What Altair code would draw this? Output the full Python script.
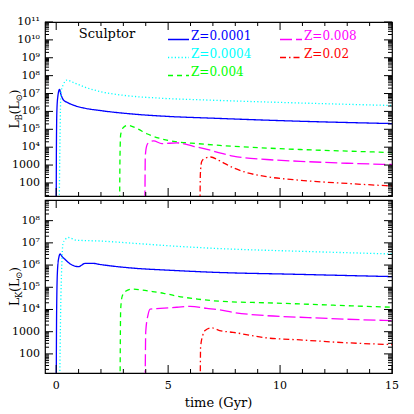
import altair as alt
import pandas as pd

FONT = "DejaVu Serif"
W, H1, H2 = 347, 174, 173

SERIES = ["Z=0.0001", "Z=0.0004", "Z=0.004", "Z=0.008", "Z=0.02"]
COLORS = ["#0000ff", "#00ffff", "#00ff00", "#ff00ff", "#ff0000"]
DASHES = [[1, 0], [1.2, 2.2], [5, 4], [12, 4], [6, 3, 1.5, 3]]

# ---- top panel: time (Gyr) and log10 L_B (Lsun) ----
tB = [
    [0.0, 0.01, 0.03, 0.07, 0.15, 0.2, 0.33, 0.5, 0.77, 1.2, 1.96, 3.45, 5.0, 7.0, 10.9, 15.0],
    [0.13, 0.17, 0.21, 0.3, 0.48, 0.8, 1.3, 2.0, 3.0, 4.5, 6.9, 10.9, 15.0],
    [2.83, 2.85, 2.88, 3.0, 3.2, 3.6, 4.05, 4.6, 5.4, 6.3, 7.3, 9.4, 10.9, 13.0, 15.0],
    [3.96, 3.98, 4.05, 4.15, 4.35, 4.72, 5.39, 6.13, 6.88, 7.3, 7.9, 9.4, 10.9, 13.0, 15.0],
    [6.42, 6.44, 6.5, 6.65, 6.9, 7.25, 7.9, 8.6, 9.4, 10.9, 13.0, 15.0],
]
logLB = [
    [0.0, 4.0, 6.0, 6.8, 7.23, 7.0, 6.63, 6.5, 6.35, 6.2, 6.05, 5.85, 5.72, 5.62, 5.45, 5.32],
    [0.0, 4.5, 7.0, 7.45, 7.75, 7.6, 7.35, 7.1, 6.9, 6.75, 6.63, 6.47, 6.33],
    [0.0, 3.5, 4.7, 5.1, 5.22, 5.05, 4.75, 4.5, 4.3, 4.2, 4.1, 3.95, 3.87, 3.78, 3.7],
    [0.0, 3.5, 4.1, 4.27, 4.35, 4.2, 4.24, 4.05, 3.83, 3.68, 3.5, 3.31, 3.21, 3.1, 3.03],
    [0.0, 2.5, 3.2, 3.38, 3.45, 3.27, 2.85, 2.55, 2.35, 2.15, 1.97, 1.83],
]

# ---- bottom panel: time (Gyr) and log10 L_K (Lsun) ----
tK = [
    [0.0, 0.02, 0.06, 0.12, 0.18, 0.25, 0.4, 0.63, 1.0, 1.3, 1.6, 2.0, 3.45, 5.0, 6.9, 10.9, 15.0],
    [0.15, 0.2, 0.25, 0.3, 0.4, 0.55, 0.9, 2.0, 3.45, 5.0, 6.9, 10.9, 15.0],
    [2.85, 2.88, 2.95, 3.1, 3.38, 4.2, 4.8, 5.4, 6.3, 7.3, 9.4, 10.9, 13.0, 15.0],
    [3.97, 4.0, 4.1, 4.2, 4.64, 5.39, 5.98, 6.73, 7.3, 7.9, 9.4, 10.9, 13.0, 15.0],
    [6.43, 6.45, 6.55, 6.65, 6.95, 7.3, 7.9, 9.4, 10.9, 13.0, 15.0],
]
logLK = [
    [0.0, 4.0, 5.8, 6.35, 6.5, 6.4, 6.25, 6.05, 5.93, 6.08, 6.08, 6.02, 5.86, 5.77, 5.68, 5.58, 5.48],
    [0.0, 4.0, 6.0, 6.95, 7.15, 7.24, 7.12, 7.08, 6.98, 6.87, 6.76, 6.62, 6.5],
    [0.0, 4.0, 4.6, 4.82, 4.92, 4.82, 4.73, 4.6, 4.47, 4.37, 4.3, 4.25, 4.17, 4.1],
    [0.0, 3.0, 3.75, 4.02, 4.05, 4.1, 4.14, 4.05, 3.98, 3.87, 3.72, 3.65, 3.56, 3.5],
    [0.0, 2.3, 2.85, 3.05, 3.17, 3.05, 2.97, 2.72, 2.63, 2.5, 2.42],
]

X_DOMAIN = [-0.5, 15]
X_MAJOR = [0, 5, 10, 15]
X_LABELS = ["0", "5", "10", "15"]
X_MINOR = [1, 2, 3, 4, 6, 7, 8, 9, 11, 12, 13, 14]
YB_DOMAIN = [18.6, 1e11]
YK_DOMAIN = [13.8, 8.5e8]
YB_MAJOR = [1e2, 1e3, 1e4, 1e5, 1e6, 1e7, 1e8, 1e9, 1e10, 1e11]
YB_LABELS = ["100", "1000", "10⁴", "10⁵", "10⁶", "10⁷", "10⁸", "10⁹", "10¹⁰", "10¹¹"]
YK_MAJOR = [1e2, 1e3, 1e4, 1e5, 1e6, 1e7, 1e8]
YK_LABELS = ["100", "1000", "10⁴", "10⁵", "10⁶", "10⁷", "10⁸"]


def minor_ticks(dom):
    out = []
    for n in range(0, 12):
        for m in range(2, 10):
            v = m * 10 ** n
            if dom[0] <= v <= dom[1]:
                out.append(v)
    return out


def frame(ts, logs):
    rows = []
    for s, tt, ll in zip(SERIES, ts, logs):
        for a, b in zip(tt, ll):
            rows.append({"series": s, "t": a, "L": 10 ** b})
    return pd.DataFrame(rows)


one = alt.Data(values=[{}])


def txt(text, x, y, size, color="black", angle=0, align="left", baseline="alphabetic"):
    return alt.Chart(one).mark_text(
        text=text, font=FONT, fontSize=size, color=color, angle=angle,
        align=align, baseline=baseline
    ).encode(x=alt.value(x), y=alt.value(y))


def panel(df, H, ydom, ymaj, ylab, show_x, sub, extra):
    ys = alt.Scale(type="log", domain=ydom)
    xs = alt.Scale(domain=X_DOMAIN, nice=False, zero=False)
    lines = alt.Chart(df).mark_line(clip=True, strokeWidth=1.3, interpolate="monotone").encode(
        x=alt.X("t:Q", scale=xs, axis=None),
        y=alt.Y("L:Q", scale=ys, axis=None),
        color=alt.Color("series:N", scale=alt.Scale(domain=SERIES, range=COLORS), legend=None),
        strokeDash=alt.StrokeDash("series:N", scale=alt.Scale(domain=SERIES, range=DASHES), legend=None),
        detail="series:N",
    )
    layers = [lines]
    ymin = minor_ticks(ydom)
    for vals, ln in ((ymaj, 8), (ymin, 4)):
        d = pd.DataFrame({"v": vals})
        for x0, x1 in ((0, ln), (W - ln, W)):
            layers.append(alt.Chart(d).mark_rule(color="black", strokeWidth=1).encode(
                y=alt.Y("v:Q", scale=ys, axis=None), x=alt.value(x0), x2=alt.value(x1)))
    for vals, ln in ((X_MAJOR, 8), (X_MINOR, 4)):
        d = pd.DataFrame({"v": vals})
        for y0, y1 in ((0, ln), (H - ln, H)):
            layers.append(alt.Chart(d).mark_rule(color="black", strokeWidth=1).encode(
                x=alt.X("v:Q", scale=xs, axis=None), y=alt.value(y0), y2=alt.value(y1)))
    # y tick labels
    layers.append(alt.Chart(pd.DataFrame({"v": ymaj, "lab": ylab})).mark_text(
        font=FONT, fontSize=11, color="black", align="right", baseline="middle").encode(
        y=alt.Y("v:Q", scale=ys, axis=None), x=alt.value(-5), text="lab:N"))
    if show_x:
        layers.append(alt.Chart(pd.DataFrame({"v": X_MAJOR, "lab": X_LABELS})).mark_text(
            font=FONT, fontSize=11, color="black", align="center", baseline="top").encode(
            x=alt.X("v:Q", scale=xs, axis=None), y=alt.value(H + 7), text="lab:N"))
        layers.append(txt("time (Gyr)", W / 2, H + 30, 13, align="center", baseline="middle"))
    # rotated axis title  L_sub(L_sun)
    big, small = 12.5, 8.5
    yc = H / 2
    parts = [("L", big, 0, 8.0), (sub, small, 3, 6.0), ("(L", big, 0, 12.9),
             ("⊙", small, 3, 7.1), (")", big, 0, 4.9)]
    total = sum(p[3] for p in parts)
    y = yc + total / 2
    for text, size, shift, wdt in parts:
        layers.append(txt(text, -26 + shift, y, size, angle=270))
        y -= wdt
    layers += extra
    return alt.layer(*layers).properties(width=W, height=H)


# legend and label inside the top panel
extra_top = [txt("Sculptor", 62, 12, 13, baseline="middle", align="center")]
leg_pos = [(123, 146, 14), (123, 146, 32), (123, 146, 50), (235, 259, 14), (235, 259, 32)]
for (x0, xt, yy), s, c, dsh in zip(leg_pos, SERIES, COLORS, DASHES):
    extra_top.append(alt.Chart(one).mark_rule(color=c, strokeDash=dsh, strokeWidth=1.3).encode(
        x=alt.value(x0), x2=alt.value(xt - 2), y=alt.value(yy + 3.5)))
    extra_top.append(txt(s, xt, yy, 12, color=c, baseline="middle"))

top = panel(frame(tB, logLB), H1, YB_DOMAIN, YB_MAJOR, YB_LABELS, False, "B", extra_top)
bottom = panel(frame(tK, logLK), H2, YK_DOMAIN, YK_MAJOR, YK_LABELS, True, "K", [])

chart = alt.vconcat(top, bottom, spacing=0).properties(
    padding={"left": 0, "top": 7, "right": 5, "bottom": 0}
).configure_view(stroke="black", strokeWidth=1.2)

chart.save("out.html", embed_options={"renderer": "svg", "actions": False})
